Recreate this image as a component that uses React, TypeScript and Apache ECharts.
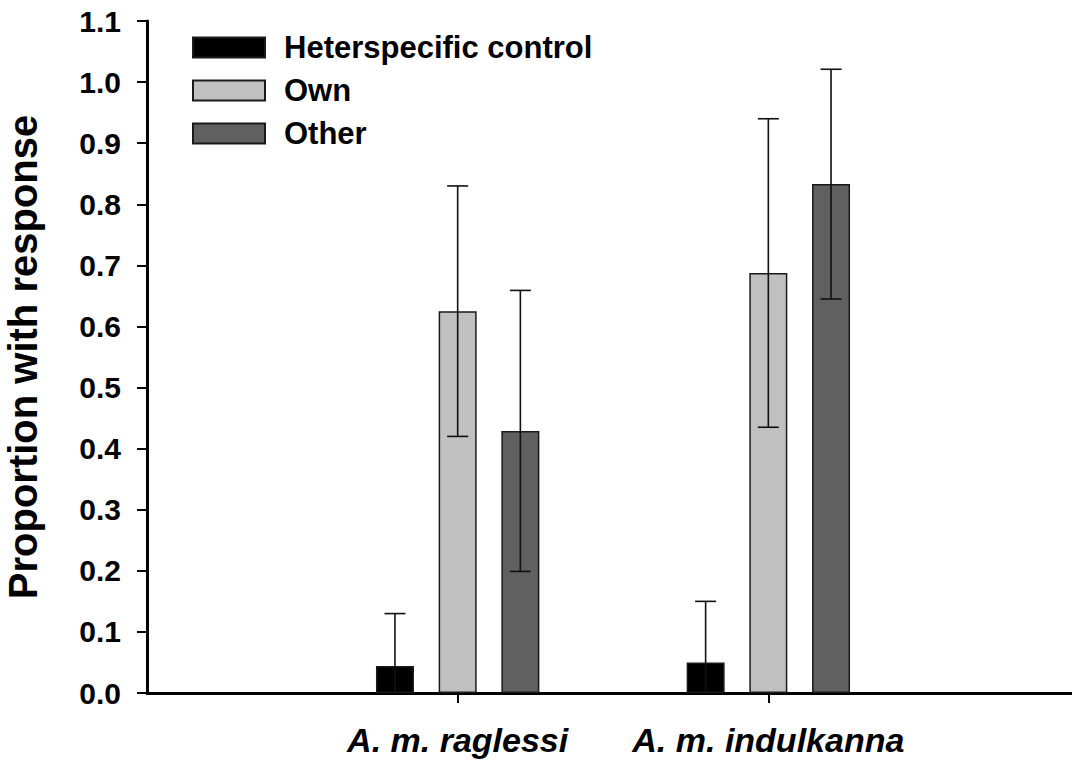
import React, { useEffect, useRef } from "react";
import * as echarts from "echarts";

// Categories on the x axis; the blank ends pad the axis so the two groups sit at 1/3 and 2/3.
const CATEGORIES = ["", "A. m. raglessi", "A. m. indulkanna", ""];
const SERIES_NAMES = ["Heterspecific control", "Own", "Other"];

// Mean proportion responding, per category
const HETERO = [null, 0.044, 0.05, null];
const OWN = [null, 0.625, 0.6875, null];
const OTHER = [null, 0.429, 0.833, null];

// Error half-widths, per category
const HETERO_ERR = [null, 0.086, 0.1, null];
const OWN_ERR = [null, 0.205, 0.2525, null];
const OTHER_ERR = [null, 0.23, 0.188, null];

const Y_MIN = 0;
const Y_MAX = 1.1;
const Y_STEP = 0.1;

const FONT = "'Liberation Sans', Arial, Helvetica, sans-serif";
const COLORS = ["#000000", "#c0c0c0", "#606060"];
const BAR_W = 38;
const GAP_RATIO = 0.65;

function errorData(values: (number | null)[], errs: (number | null)[]) {
  const out: number[][] = [];
  values.forEach((v, i) => {
    const e = errs[i];
    if (v == null || e == null) return;
    const low = Math.max(0, v - e);
    out.push([i, low, v + e, v - e < 0 ? 1 : 0]);
  });
  return out;
}

export default function App() {
  const ref = useRef<HTMLDivElement>(null);

  useEffect(() => {
    if (!ref.current) return;
    const chart = echarts.init(ref.current, undefined, { renderer: "svg" });
    const means = [HETERO, OWN, OTHER];
    const errs = [HETERO_ERR, OWN_ERR, OTHER_ERR];

    const barSeries = means.map((data, k) => ({
      name: SERIES_NAMES[k],
      type: "bar",
      data,
      barWidth: BAR_W,
      barGap: `${GAP_RATIO * 100}%`,
      itemStyle: {
        color: COLORS[k],
        borderColor: "#1a1a1a",
        borderWidth: 1.5,
      },
      z: 2,
    }));

    const errSeries = means.map((data, k) => ({
      type: "custom",
      name: SERIES_NAMES[k] + " error",
      data: errorData(data, errs[k]),
      z: 5,
      silent: true,
      renderItem: (_params: any, api: any) => {
        const offset = (k - 1) * BAR_W * (1 + GAP_RATIO);
        const top = api.coord([api.value(0), api.value(2)]);
        const bottom = api.coord([api.value(0), api.value(1)]);
        const clipped = api.value(3) === 1;
        const x = top[0] + offset;
        const half = 10.5;
        const style = { stroke: "#111111", lineWidth: 1.6 };
        const children: any[] = [
          { type: "line", shape: { x1: x, y1: top[1], x2: x, y2: bottom[1] }, style },
          { type: "line", shape: { x1: x - half, y1: top[1], x2: x + half, y2: top[1] }, style },
        ];
        if (!clipped) {
          children.push({
            type: "line",
            shape: { x1: x - half, y1: bottom[1], x2: x + half, y2: bottom[1] },
            style,
          });
        }
        return { type: "group", children };
      },
    }));

    chart.setOption({
      animation: false,
      textStyle: { fontFamily: FONT },
      legend: {
        data: SERIES_NAMES,
        orient: "vertical",
        left: 187,
        top: 27,
        itemWidth: 72,
        itemHeight: 20,
        itemGap: 12,
        icon: "rect",
        textStyle: {
          fontFamily: FONT,
          fontSize: 31,
          fontWeight: "bold",
          color: "#000",
          padding: [0, 0, 0, 14],
          lineHeight: 30,
        },
      },
      grid: { left: 147, top: 21, bottom: 69, width: 932, outerBoundsMode: "none" },
      xAxis: {
        type: "category",
        data: CATEGORIES,
        boundaryGap: false,
        axisLine: { lineStyle: { color: "#000", width: 3 } },
        axisTick: {
          length: 10,
          lineStyle: { color: "#000", width: 2 },
          interval: (i: number) => i === 1 || i === 2,
        },
        axisLabel: {
          interval: (i: number) => i === 1 || i === 2,
          margin: 30,
          fontFamily: FONT,
          fontSize: 34,
          fontWeight: "bold",
          fontStyle: "italic",
          color: "#000",
        },
        splitLine: { show: false },
      },
      yAxis: {
        type: "value",
        min: Y_MIN,
        max: Y_MAX,
        interval: Y_STEP,
        name: "Proportion with response",
        nameLocation: "middle",
        nameGap: 104,
        nameTextStyle: {
          fontFamily: FONT,
          fontSize: 40,
          fontWeight: "bold",
          color: "#000",
        },
        axisLine: { show: true, lineStyle: { color: "#000", width: 3 } },
        axisTick: { show: true, length: 10, lineStyle: { color: "#000", width: 2 } },
        axisLabel: {
          margin: 26,
          fontFamily: FONT,
          fontSize: 30,
          fontWeight: "bold",
          color: "#000",
          formatter: (v: number) => v.toFixed(1),
        },
        splitLine: { show: false },
      },
      series: [...barSeries, ...errSeries],
    });

    return () => chart.dispose();
  }, []);

  return (
    <div
      ref={ref}
      style={{ position: "fixed", left: 0, top: 0, width: 1072, height: 762, background: "#fff" }}
    />
  );
}
